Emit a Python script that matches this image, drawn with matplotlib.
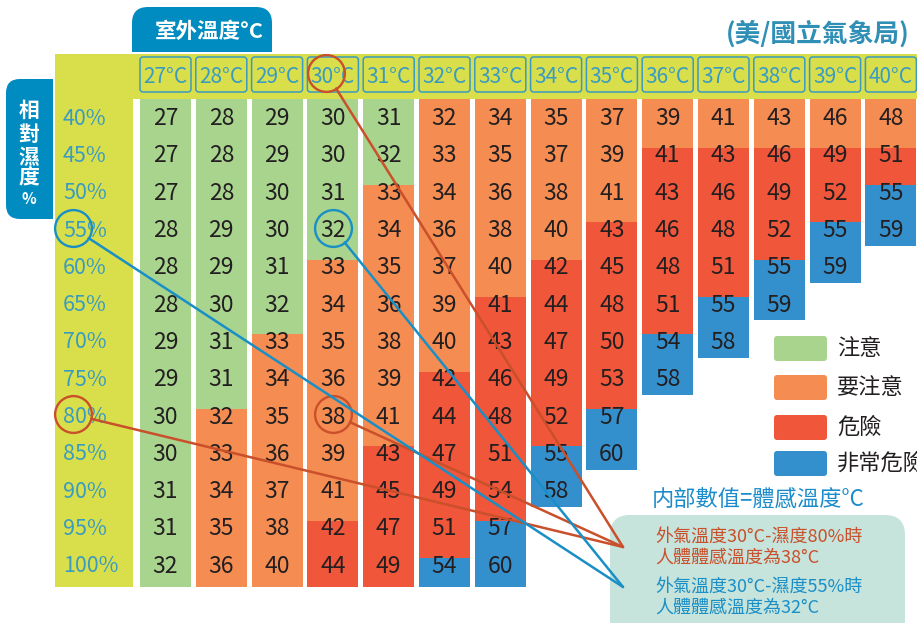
"""
Heat index chart (體感溫度表) - outdoor temperature vs relative humidity.
"""

import numpy as np
import matplotlib
matplotlib.use('Agg')
import matplotlib.pyplot as plt
from matplotlib.patches import Rectangle, FancyBboxPatch

plt.rcParams['font.family'] = ['Noto Sans CJK TC', 'DejaVu Sans']

# --- data ---
TEMPS = [27, 28, 29, 30, 31, 32, 33, 34, 35, 36, 37, 38, 39, 40]
HUMIDITY = [40, 45, 50, 55, 60, 65, 70, 75, 80, 85, 90, 95, 100]

# apparent temperature, one list per outdoor temperature (top row = 40%)
HEAT = {
    27: [27, 27, 27, 28, 28, 28, 29, 29, 30, 30, 31, 31, 32],
    28: [28, 28, 28, 29, 29, 30, 31, 31, 32, 33, 34, 35, 36],
    29: [29, 29, 30, 30, 31, 32, 33, 34, 35, 36, 37, 38, 40],
    30: [30, 30, 31, 32, 33, 34, 35, 36, 38, 39, 41, 42, 44],
    31: [31, 32, 33, 34, 35, 36, 38, 39, 41, 43, 45, 47, 49],
    32: [32, 33, 34, 36, 37, 39, 40, 42, 44, 47, 49, 51, 54],
    33: [34, 35, 36, 38, 40, 41, 43, 46, 48, 51, 54, 57, 60],
    34: [35, 37, 38, 40, 42, 44, 47, 49, 52, 55, 58],
    35: [37, 39, 41, 43, 45, 48, 50, 53, 57, 60],
    36: [39, 41, 43, 46, 48, 51, 54, 58],
    37: [41, 43, 46, 48, 51, 55, 58],
    38: [43, 46, 49, 52, 55, 59],
    39: [46, 49, 52, 55, 59],
    40: [48, 51, 55, 59],
}

# number of cells per warning level in each column: 注意, 要注意, 危險, 非常危險
LEVEL_COUNTS = {
    27: [13, 0, 0, 0], 28: [8, 5, 0, 0], 29: [6, 7, 0, 0], 30: [4, 7, 2, 0],
    31: [2, 7, 4, 0], 32: [0, 7, 5, 1], 33: [0, 5, 6, 2], 34: [0, 4, 5, 2],
    35: [0, 3, 5, 2], 36: [0, 1, 5, 2], 37: [0, 1, 4, 2], 38: [0, 1, 3, 2],
    39: [0, 1, 2, 2], 40: [0, 1, 1, 2],
}
LEVEL_NAMES = ['注意', '要注意', '危險', '非常危險']
LEVEL_COLORS = ['#a8d48e', '#f58c52', '#ef563a', '#3490cd']

# highlighted examples (temperature, humidity)
EXAMPLES = [(30, 80, '#c9502a'), (30, 55, '#1a8fc6')]

YELLOW = '#d8df4a'
TAB_BLUE = '#008cc0'
TEAL = '#3a9bc2'
INK = '#231f20'

# --- geometry: pixel layout of the 917x623 picture ---
W_PX, H_PX = 917, 623
X0, DX = 165.5, 55.8    # centre of first column, column pitch
Y0, DY = 116.0, 37.3    # centre of first row, row pitch
ASPECT = DX / DY
TXT_DY = 0.07           # small downward nudge so digits sit on the row centre


def P(x, y):
    """Pixel position -> data coordinates."""
    return (x - X0) / DX, (y - Y0) / DY


def rbox(ax, x, y, w, h, r, color, z=1, **kw):
    (dx0, dy0), (dx1, dy1) = P(x, y), P(x + w, y + h)
    p = FancyBboxPatch((dx0, dy0), dx1 - dx0, dy1 - dy0,
                       boxstyle=f'round,pad=0,rounding_size={r / DX}',
                       mutation_aspect=ASPECT, facecolor=color,
                       edgecolor=kw.pop('ec', 'none'), zorder=z, **kw)
    ax.add_patch(p)


def rect(ax, x, y, w, h, color, z=1):
    (dx0, dy0), (dx1, dy1) = P(x, y), P(x + w, y + h)
    ax.add_patch(Rectangle((dx0, dy0), dx1 - dx0, dy1 - dy0,
                           facecolor=color, edgecolor='none', zorder=z))


fig = plt.figure(figsize=(W_PX / 100, H_PX / 100), dpi=100)
ax = fig.add_axes([0, 0, 1, 1])
ax.set_xlim(P(0, 0)[0], P(W_PX, 0)[0])
ax.set_ylim(P(0, H_PX)[1], P(0, 0)[1])
ax.axis('off')

# title tab and side tab
rbox(ax, 132, 7, 140, 60, 16, TAB_BLUE, z=1)
rect(ax, 132, 52, 140, 2, 'white', z=1.5)
ax.text(*P(209, 32), '室外溫度°C', color='white', fontsize=15.5,
        fontweight='bold', ha='center', va='center', zorder=5)
rbox(ax, 6, 79, 70, 140, 14, TAB_BLUE, z=1)
rect(ax, 53, 79, 2, 140, 'white', z=1.5)
for ch, yy, fs in [('相', 110, 15), ('對', 134, 15), ('濕', 157, 15),
                   ('度', 178, 15), ('%', 199, 11)]:
    ax.text(*P(29, yy), ch, color='white', fontsize=fs, fontweight='bold',
            ha='center', va='center', zorder=5)
ax.text(*P(726, 34), '(美/國立氣象局)', color='#2f8fb5', fontsize=18.5,
        fontweight='bold', ha='left', va='center', zorder=5)

# yellow frame
rect(ax, 55, 54, W_PX - 55, 45, YELLOW, z=2)
rect(ax, 55, 54, 78, 533, YELLOW, z=2)

n_rows = len(HUMIDITY)
cell_w = 51 / DX
top = P(0, 99)[1]
header_y = P(0, 74.5)[1]
for j, t in enumerate(TEMPS):
    # header box
    (hx0, hy0), (hx1, hy1) = P(0, 57), P(51, 92)
    ax.add_patch(FancyBboxPatch((j - cell_w / 2, hy0), cell_w, hy1 - hy0,
                                boxstyle=f'round,pad=0,rounding_size={3 / DX}',
                                mutation_aspect=ASPECT, facecolor='none',
                                edgecolor=TEAL, lw=1.1, zorder=3))
    ax.text(j, header_y + TXT_DY, f'{t}°C', color=TEAL, fontsize=15,
            ha='center', va='center', zorder=4)

    vals = HEAT[t]
    n = len(vals)
    bottom = n - 1 + (0.63 if n == n_rows else 0.48)
    start = 0
    for k, cnt in enumerate(LEVEL_COUNTS[t]):
        if cnt == 0:
            continue
        end = start + cnt
        y_top = top if start == 0 else start - 0.15
        y_bot = bottom if end == n else end - 0.15
        ax.add_patch(Rectangle((j - cell_w / 2, y_top), cell_w, y_bot - y_top,
                               facecolor=LEVEL_COLORS[k], edgecolor='none',
                               zorder=2))
        start = end
    for i, v in enumerate(vals):
        ax.text(j, i + TXT_DY, str(v), color=INK, fontsize=16.5, ha='center',
                va='center', zorder=4)

label_x = P(63, 0)[0]
for i, h in enumerate(HUMIDITY):
    ax.text(label_x, i + TXT_DY, f'{h}%', color=TEAL, fontsize=15.5, ha='left',
            va='center', zorder=4)

# legend
for k, (name, col) in enumerate(zip(LEVEL_NAMES, LEVEL_COLORS)):
    yy = [336, 375, 415, 451][k]
    rbox(ax, 774, yy, 53, 25, 3, col, z=3)
    ax.text(*P(837, yy + 12.5), name, color=INK, fontsize=16, ha='left',
            va='center', zorder=4)

ax.text(*P(652, 499), '内部數值=體感溫度°C', color='#1b8ccb', fontsize=16,
        ha='left', va='center', zorder=4)

# explanation box
rbox(ax, 610, 515, 295, 125, 20, '#c6e3dc', z=3)
targets = {}
for (t, h, col), (ya, yb, tgt) in zip(EXAMPLES, [(537, 558, 547), (587, 608, 587)]):
    ax.text(*P(655, ya), f'外氣溫度{t}°C-濕度{h}%時', color=col, fontsize=13,
            ha='left', va='center', zorder=4)
    v = HEAT[t][HUMIDITY.index(h)]
    ax.text(*P(655, yb), f'人體體感溫度為{v}°C', color=col, fontsize=13,
            ha='left', va='center', zorder=4)
    targets[h] = P(623, tgt)

# circles and connector lines
j30 = TEMPS.index(30)
circ_x_label = P(73, 0)[0]
circles = [((j30 - 0.12, header_y - 0.05), 80),
           ((circ_x_label, HUMIDITY.index(80)), 80),
           ((j30, HUMIDITY.index(80)), 80),
           ((circ_x_label, HUMIDITY.index(55)), 55),
           ((j30, HUMIDITY.index(55)), 55)]
colors = {h: c for _, h, c in EXAMPLES}
for (cx, cy), h in circles:
    col = colors[h]
    ax.plot(cx, cy, 'o', ms=26.5, mfc='none', mec=col, mew=1.7, zorder=6)
    ax.annotate('', xy=targets[h], xytext=(cx, cy),
                arrowprops=dict(arrowstyle='-', color=col, lw=1.8,
                                shrinkA=13.5, shrinkB=0), zorder=6)

fig.savefig('out.png', dpi=100, facecolor='white')
